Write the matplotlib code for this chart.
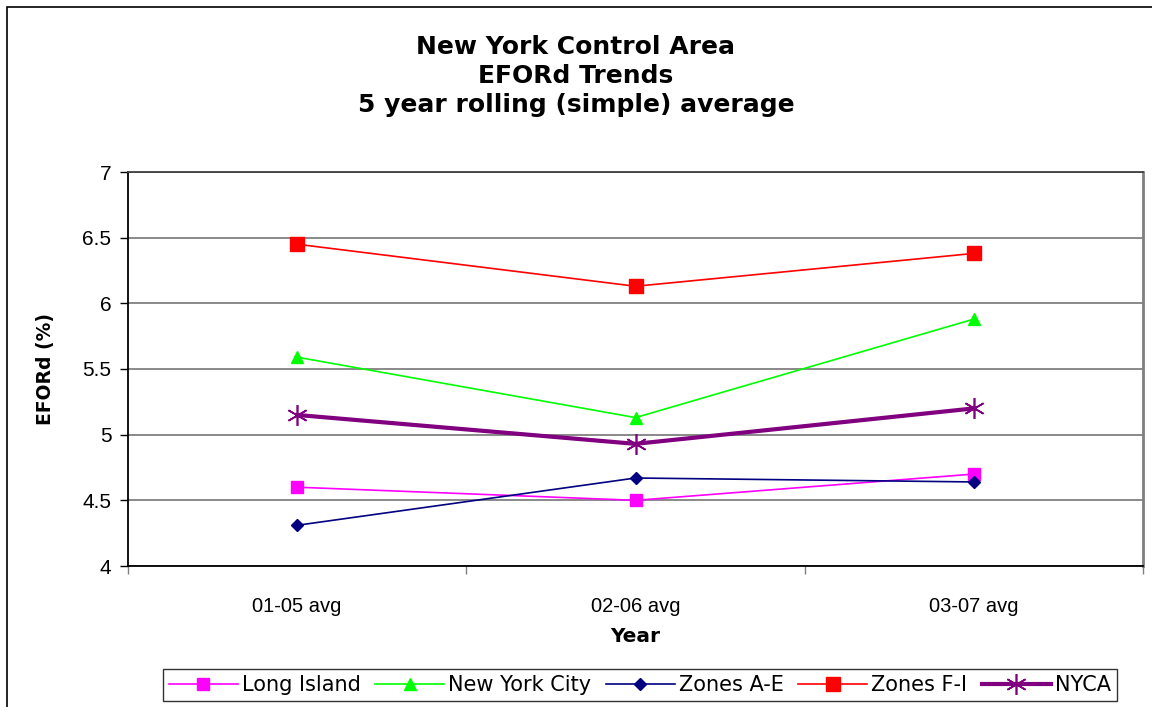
import numpy as np
import matplotlib.pyplot as plt
from matplotlib.patches import Rectangle

# Datos
periodos = ["01-05 avg", "02-06 avg", "03-07 avg"]
long_island = [4.60, 4.50, 4.70]
new_york_city = [5.59, 5.13, 5.88]
zones_a_e = [4.31, 4.67, 4.64]
zones_f_i = [6.45, 6.13, 6.38]
nyca = [5.15, 4.93, 5.20]

plt.rcParams['font.family'] = ['Liberation Sans', 'DejaVu Sans']

fig = plt.figure(figsize=(11.52, 7.07), dpi=100)
ax = fig.add_axes([128 / 1152, 1 - 566 / 707, (1143 - 128) / 1152, (566 - 172) / 707])

# Marco exterior del grafico
fig.patches.append(Rectangle((7 / 1152, -0.1), 1.1, 1 - 7 / 707 + 0.1,
                             transform=fig.transFigure, fill=False,
                             edgecolor='black', linewidth=1.2))

x = np.arange(len(periodos))
asterisco = (6, 2, 0)

ax.plot(x, long_island, color='#FF00FF', marker='s', markersize=8, lw=1.2,
        label='Long Island')
ax.plot(x, new_york_city, color='#00FF00', marker='^', markersize=9, lw=1.2,
        label='New York City')
ax.plot(x, zones_a_e, color='#000080', marker='D', markersize=6.5, lw=1.2,
        label='Zones A-E')
ax.plot(x, zones_f_i, color='#FF0000', marker='s', markersize=9.5, lw=1.2,
        label='Zones F-I')
ax.plot(x, nyca, color='#800080', marker=asterisco, markersize=15, mew=1.2,
        lw=3, label='NYCA')

ax.set_xlim(-0.5, len(periodos) - 0.5)
ax.set_ylim(4, 7)
ax.set_yticks(np.arange(4, 7.01, 0.5))
ax.set_yticklabels(["4", "4.5", "5", "5.5", "6", "6.5", "7"])
ax.yaxis.grid(True, color='#808080', linewidth=1.3)
ax.set_axisbelow(True)

ax.set_xticks(x)
ax.set_xticklabels(periodos)
ax.set_xticks(np.arange(-0.5, len(periodos), 1.0), minor=True)
ax.tick_params(axis='x', which='major', length=0, pad=22, labelsize=14.5)
ax.tick_params(axis='x', which='minor', length=6, width=1, color='#808080')
ax.tick_params(axis='y', length=6, width=1, pad=6, labelsize=15)

for lado in ['left', 'bottom']:
    ax.spines[lado].set_color('black')
    ax.spines[lado].set_linewidth(1.3)
ax.spines['top'].set_color('#404040')
ax.spines['top'].set_linewidth(1.3)
ax.spines['right'].set_color('#808080')
ax.spines['right'].set_linewidth(2)

ax.set_xlabel("Year", fontsize=14.5, fontweight='bold', labelpad=8,
              family=['DejaVu Sans'])
ax.set_ylabel("EFORd (%)", fontsize=13.5, fontweight='bold', labelpad=20,
              family=['DejaVu Sans'])

fig.text(0.5, 1 - 76 / 707, "New York Control Area\nEFORd Trends\n5 year rolling (simple) average",
         ha='center', va='center', fontsize=18, fontweight='bold',
         family=['DejaVu Sans'], linespacing=1.25)

leg = fig.legend(loc='center', bbox_to_anchor=(640 / 1152, 1 - 685 / 707), ncol=5,
                 prop={'family': ['DejaVu Sans'], 'size': 15},
                 frameon=True, fancybox=False, edgecolor='black',
                 handlelength=3.3, handletextpad=0.2, columnspacing=0.7,
                 borderpad=0.3, borderaxespad=0)
leg.get_frame().set_linewidth(1)

fig.savefig("out.png", dpi=100)
